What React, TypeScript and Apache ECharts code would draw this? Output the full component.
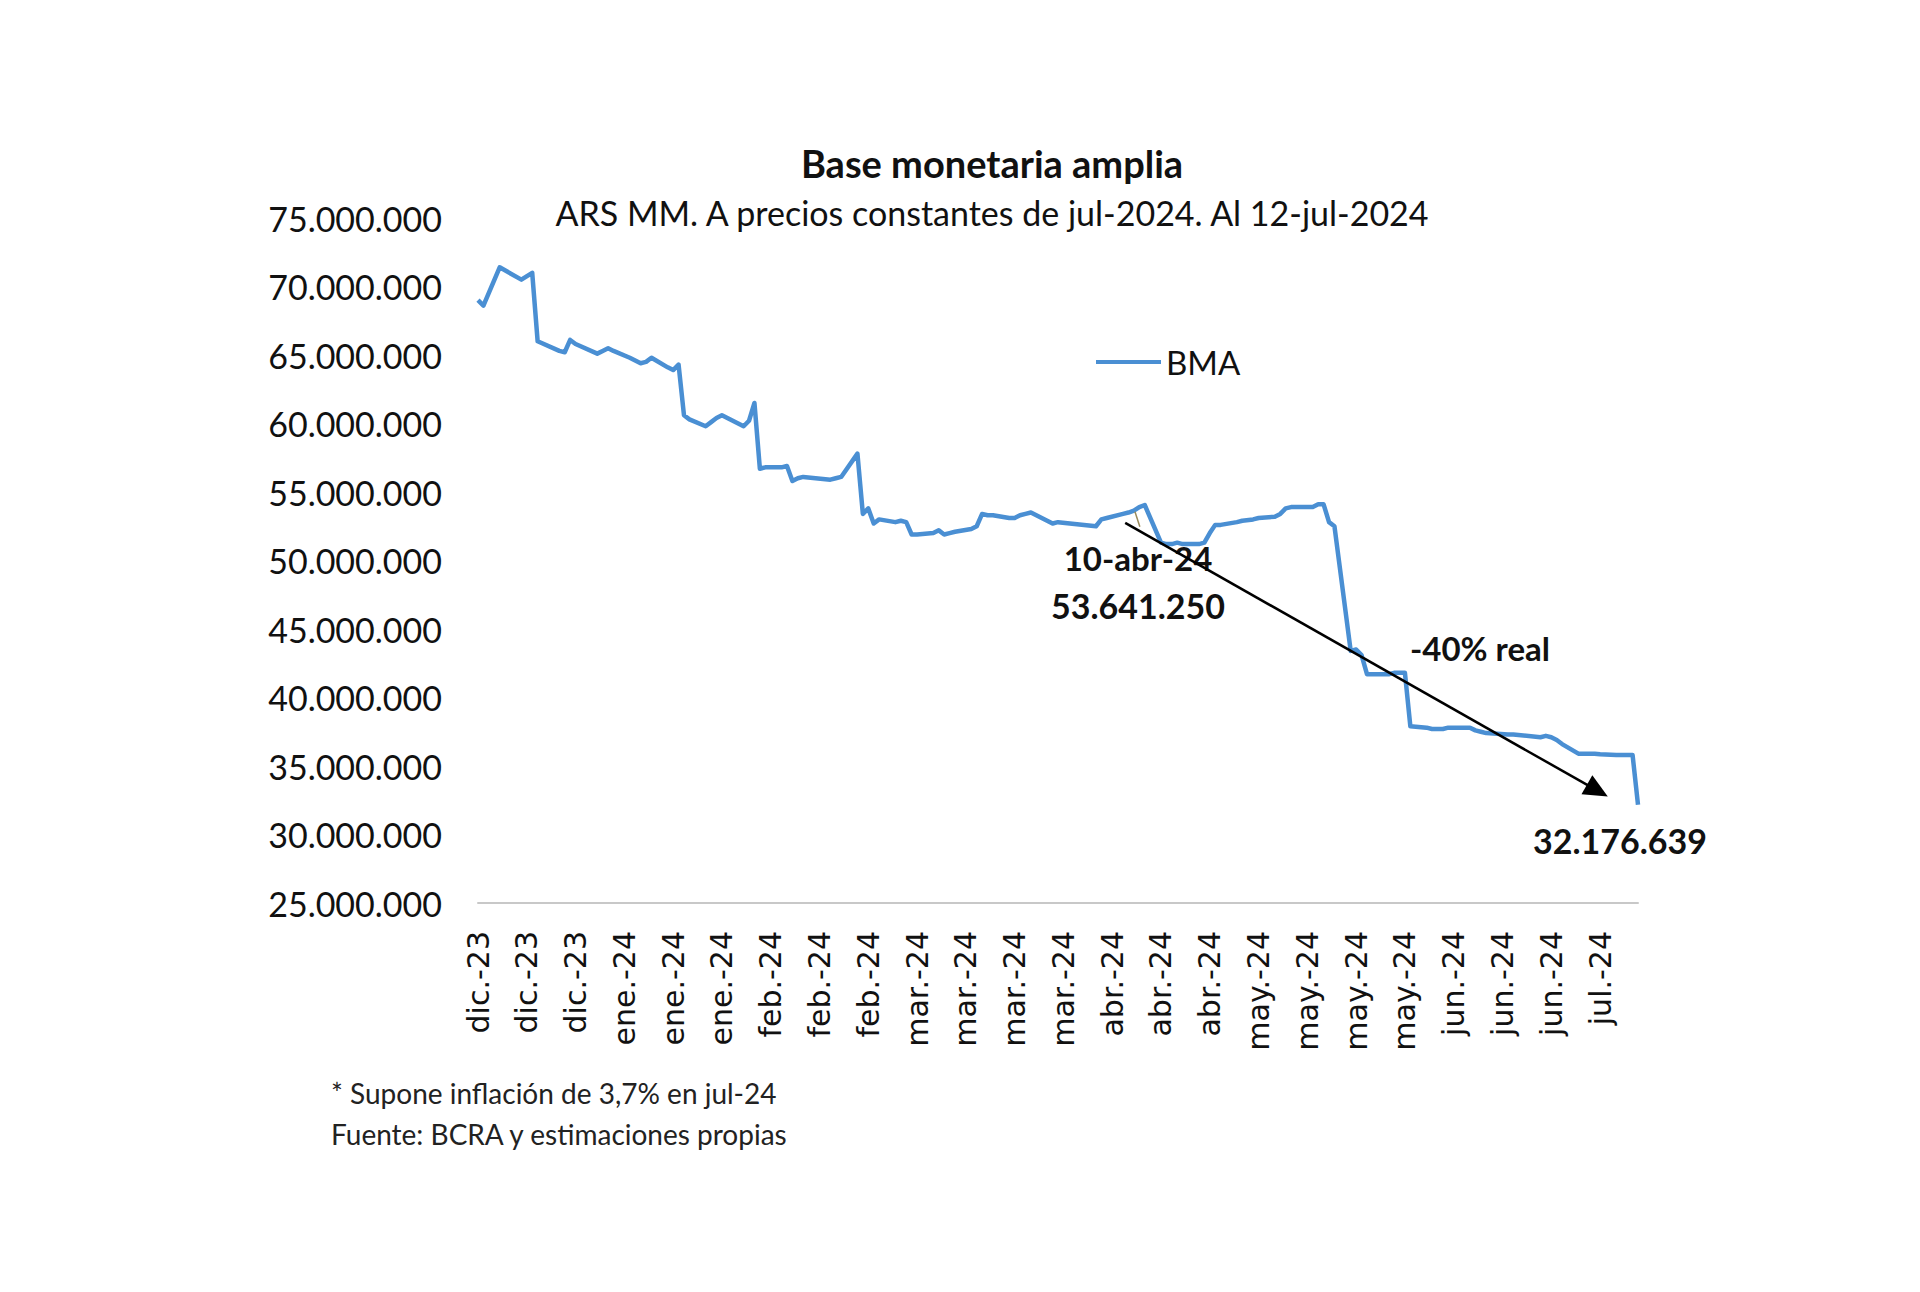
import React, { useEffect, useRef } from "react";
import * as echarts from "echarts";

// ---------- DATA ----------
const AXIS_START = "2023-12-11";
const AXIS_END = "2024-07-12";
const LABEL_STEP_DAYS = 9;
const MONTHS_ES = ["ene", "feb", "mar", "abr", "may", "jun", "jul", "ago", "sep", "oct", "nov", "dic"];

const dates = [
  "2023-12-11", "2023-12-12", "2023-12-15", "2023-12-19", "2023-12-21", "2023-12-22",
  "2023-12-26", "2023-12-27", "2023-12-28", "2023-12-29",
  "2024-01-02", "2024-01-03", "2024-01-04", "2024-01-05", "2024-01-08", "2024-01-09",
  "2024-01-10", "2024-01-11", "2024-01-12", "2024-01-15", "2024-01-16", "2024-01-17",
  "2024-01-18", "2024-01-19", "2024-01-22", "2024-01-23", "2024-01-24", "2024-01-25",
  "2024-01-26", "2024-01-29", "2024-01-30", "2024-01-31",
  "2024-02-01", "2024-02-02", "2024-02-05", "2024-02-06", "2024-02-07", "2024-02-08",
  "2024-02-09", "2024-02-14", "2024-02-15", "2024-02-16", "2024-02-19", "2024-02-20",
  "2024-02-21", "2024-02-22", "2024-02-23", "2024-02-26", "2024-02-27", "2024-02-28",
  "2024-02-29",
  "2024-03-01", "2024-03-04", "2024-03-05", "2024-03-06", "2024-03-07", "2024-03-08",
  "2024-03-11", "2024-03-12", "2024-03-13", "2024-03-14", "2024-03-15", "2024-03-18",
  "2024-03-19", "2024-03-20", "2024-03-21", "2024-03-22", "2024-03-25", "2024-03-26",
  "2024-03-27",
  "2024-04-03", "2024-04-04", "2024-04-05", "2024-04-08", "2024-04-09", "2024-04-10",
  "2024-04-11", "2024-04-12", "2024-04-15", "2024-04-16", "2024-04-17", "2024-04-18",
  "2024-04-19", "2024-04-22", "2024-04-23", "2024-04-24", "2024-04-25", "2024-04-26",
  "2024-04-29", "2024-04-30",
  "2024-05-02", "2024-05-03", "2024-05-06", "2024-05-07", "2024-05-08", "2024-05-09",
  "2024-05-10", "2024-05-13", "2024-05-14", "2024-05-15", "2024-05-16", "2024-05-17",
  "2024-05-20", "2024-05-21", "2024-05-22", "2024-05-23", "2024-05-24", "2024-05-27",
  "2024-05-28", "2024-05-29", "2024-05-30", "2024-05-31",
  "2024-06-03", "2024-06-04", "2024-06-05", "2024-06-06", "2024-06-07", "2024-06-10",
  "2024-06-11", "2024-06-12", "2024-06-13", "2024-06-14", "2024-06-18", "2024-06-19",
  "2024-06-24", "2024-06-25", "2024-06-26", "2024-06-27", "2024-06-28",
  "2024-07-01", "2024-07-02", "2024-07-03", "2024-07-04", "2024-07-05", "2024-07-08",
  "2024-07-10", "2024-07-11", "2024-07-12",
];

// BMA, millones de ARS MM (x 1.000.000 on the axis)
const bmaMillions = [
  69.0, 68.6, 71.4, 70.5, 71.0, 66.0,
  65.3, 65.2, 66.1, 65.8,
  65.1, 65.3, 65.5, 65.3, 64.8, 64.6,
  64.4, 64.5, 64.8, 64.1, 63.9, 64.3,
  60.6, 60.3, 59.8, 60.1, 60.4, 60.6,
  60.4, 59.8, 60.2, 61.5,
  56.7, 56.8, 56.8, 56.9, 55.8, 56.0,
  56.1, 55.9, 56.0, 56.1, 57.8, 53.4,
  53.8, 52.7, 53.0, 52.8, 52.9, 52.8,
  51.9,
  51.9, 52.0, 52.2, 51.9, 52.0, 52.1,
  52.3, 52.5, 53.4, 53.3, 53.3, 53.1,
  53.1, 53.3, 53.4, 53.5, 52.9, 52.7,
  52.8,
  52.5, 53.0, 53.1, 53.4, 53.5, 53.64125,
  53.9, 54.05, 51.3, 51.2, 51.2, 51.3,
  51.2, 51.2, 51.3, 52.0, 52.6, 52.6,
  52.8, 52.9,
  53.0, 53.1, 53.2, 53.4, 53.8, 53.9,
  53.9, 53.9, 54.1, 54.1, 52.8, 52.5,
  43.4, 43.5, 43.1, 41.7, 41.7, 41.7,
  41.8, 41.8, 41.8, 37.9,
  37.8, 37.7, 37.7, 37.7, 37.8, 37.8,
  37.8, 37.6, 37.5, 37.4, 37.3, 37.3,
  37.1, 37.2, 37.1, 36.9, 36.6,
  35.9, 35.9, 35.9, 35.9, 35.85, 35.8,
  35.8, 35.8, 32.176639,
];

const Y_MIN = 25000000;
const Y_MAX = 75000000;
const Y_STEP = 5000000;

const TITLE = "Base monetaria amplia";
const SUBTITLE = "ARS MM. A precios constantes de jul-2024. Al 12-jul-2024";
const SERIES_NAME = "BMA";
const HIGHLIGHT_DATE = "2024-04-10";
const HIGHLIGHT_LABEL = "10-abr-24";
const CHANGE_LABEL = "-40% real";
// trend arrow in data space: [day offset, millions]
const ARROW_FROM = [119.4, 52.74];
const ARROW_TO = [206.5, 33.2];
const LEADER_FROM = [121.2, 53.56];
const LEADER_TO = [122.1, 52.47];
const FOOTNOTES = ["* Supone inflación de 3,7% en jul-24", "Fuente: BCRA y estimaciones propias"];

// ---------- HELPERS ----------
const DAY_MS = 86400000;
const toUTC = (s: string) => {
  const [y, m, d] = s.split("-").map(Number);
  return Date.UTC(y, m - 1, d);
};
const dayOffset = (s: string) => Math.round((toUTC(s) - toUTC(AXIS_START)) / DAY_MS);
const fmtDots = (n: number) => String(Math.round(n)).replace(/\B(?=(\d{3})+(?!\d))/g, ".");
const dayLabel = (off: number) => {
  const dt = new Date(toUTC(AXIS_START) + off * DAY_MS);
  return MONTHS_ES[dt.getUTCMonth()] + ".-" + String(dt.getUTCFullYear()).slice(2);
};

const FONT = "Lato, 'Open Sans', sans-serif";

export default function App() {
  const ref = useRef<HTMLDivElement>(null);

  useEffect(() => {
    if (!ref.current) return;
    const chart = echarts.init(ref.current, null, { renderer: "svg" });

    const seriesData = dates.map((d, i) => [dayOffset(d), bmaMillions[i] * 1e6]);
    const hiIdx = dates.indexOf(HIGHLIGHT_DATE);
    const lastIdx = dates.length - 1;

    chart.setOption({
      animation: false,
      backgroundColor: "#ffffff",
      grid: { left: 478, right: 282, top: 218, bottom: 389, containLabel: false },
      legend: {
        left: 1096,
        top: 342,
        padding: 0,
        icon: "rect",
        itemWidth: 65,
        itemHeight: 4,
        data: [SERIES_NAME],
        textStyle: { fontFamily: FONT, fontSize: 33, color: "#111", lineHeight: 40 },
      },
      xAxis: {
        type: "value",
        min: 0,
        max: dayOffset(AXIS_END),
        interval: LABEL_STEP_DAYS,
        axisLine: { show: true, lineStyle: { color: "#c8c8c8", width: 2 } },
        axisTick: { show: false },
        splitLine: { show: false },
        axisLabel: {
          rotate: 90,
          margin: 28,
          fontFamily: "'DejaVu Sans', Verdana, sans-serif",
          fontSize: 30,
          color: "#111",
          showMaxLabel: false,
          formatter: (v: number) => (v % LABEL_STEP_DAYS === 0 ? dayLabel(v) : ""),
        },
      },
      yAxis: {
        type: "value",
        min: Y_MIN,
        max: Y_MAX,
        interval: Y_STEP,
        axisLine: { show: false },
        axisTick: { show: false },
        splitLine: { show: false },
        axisLabel: {
          margin: 36,
          fontFamily: FONT,
          fontSize: 34,
          color: "#111",
          formatter: (v: number) => fmtDots(v),
        },
      },
      series: [
        {
          name: SERIES_NAME,
          type: "line",
          data: seriesData,
          showSymbol: false,
          symbol: "none",
          color: "#4a8fd3",
          lineStyle: { color: "#4a8fd3", width: 4.5, join: "round" },
          markLine: {
            silent: true,
            animation: false,
            label: { show: false },
            data: [
              [
                { coord: [ARROW_FROM[0], ARROW_FROM[1] * 1e6], symbol: "none", lineStyle: { color: "#000", width: 2.5, type: "solid" } },
                { coord: [ARROW_TO[0], ARROW_TO[1] * 1e6], symbol: "triangle", symbolSize: [22, 24] },
              ],
              [
                { coord: [LEADER_FROM[0], LEADER_FROM[1] * 1e6], symbol: "none", lineStyle: { color: "#9a8a5a", width: 1.5, type: "solid" } },
                { coord: [LEADER_TO[0], LEADER_TO[1] * 1e6], symbol: "none" },
              ],
            ],
          },
        },
      ],
      graphic: [
        { type: "text", x: 992, y: 163, style: { text: TITLE, font: `bold 38px ${FONT}`, fill: "#111", textAlign: "center", textVerticalAlign: "middle" } },
        { type: "text", x: 992, y: 212, style: { text: SUBTITLE, font: `34px ${FONT}`, fill: "#111", textAlign: "center", textVerticalAlign: "middle" } },
        { type: "text", x: 1138, y: 558, style: { text: HIGHLIGHT_LABEL, font: `bold 33px ${FONT}`, fill: "#111", textAlign: "center", textVerticalAlign: "middle" } },
        { type: "text", x: 1138, y: 605, style: { text: fmtDots(bmaMillions[hiIdx] * 1e6), font: `bold 34px ${FONT}`, fill: "#111", textAlign: "center", textVerticalAlign: "middle" } },
        { type: "text", x: 1480, y: 648, style: { text: CHANGE_LABEL, font: `bold 33px ${FONT}`, fill: "#111", textAlign: "center", textVerticalAlign: "middle" } },
        { type: "text", x: 1620, y: 840, style: { text: fmtDots(bmaMillions[lastIdx] * 1e6), font: `bold 34px ${FONT}`, fill: "#111", textAlign: "center", textVerticalAlign: "middle" } },
        { type: "text", x: 331, y: 1093, style: { text: FOOTNOTES[0], font: `28px ${FONT}`, fill: "#222", textAlign: "left", textVerticalAlign: "middle" } },
        { type: "text", x: 331, y: 1134, style: { text: FOOTNOTES[1], font: `28px ${FONT}`, fill: "#222", textAlign: "left", textVerticalAlign: "middle" } },
      ],
    });

    return () => chart.dispose();
  }, []);

  return (
    <div
      ref={ref}
      style={{ position: "absolute", left: 0, top: 0, width: 1920, height: 1292, background: "#fff" }}
    />
  );
}
